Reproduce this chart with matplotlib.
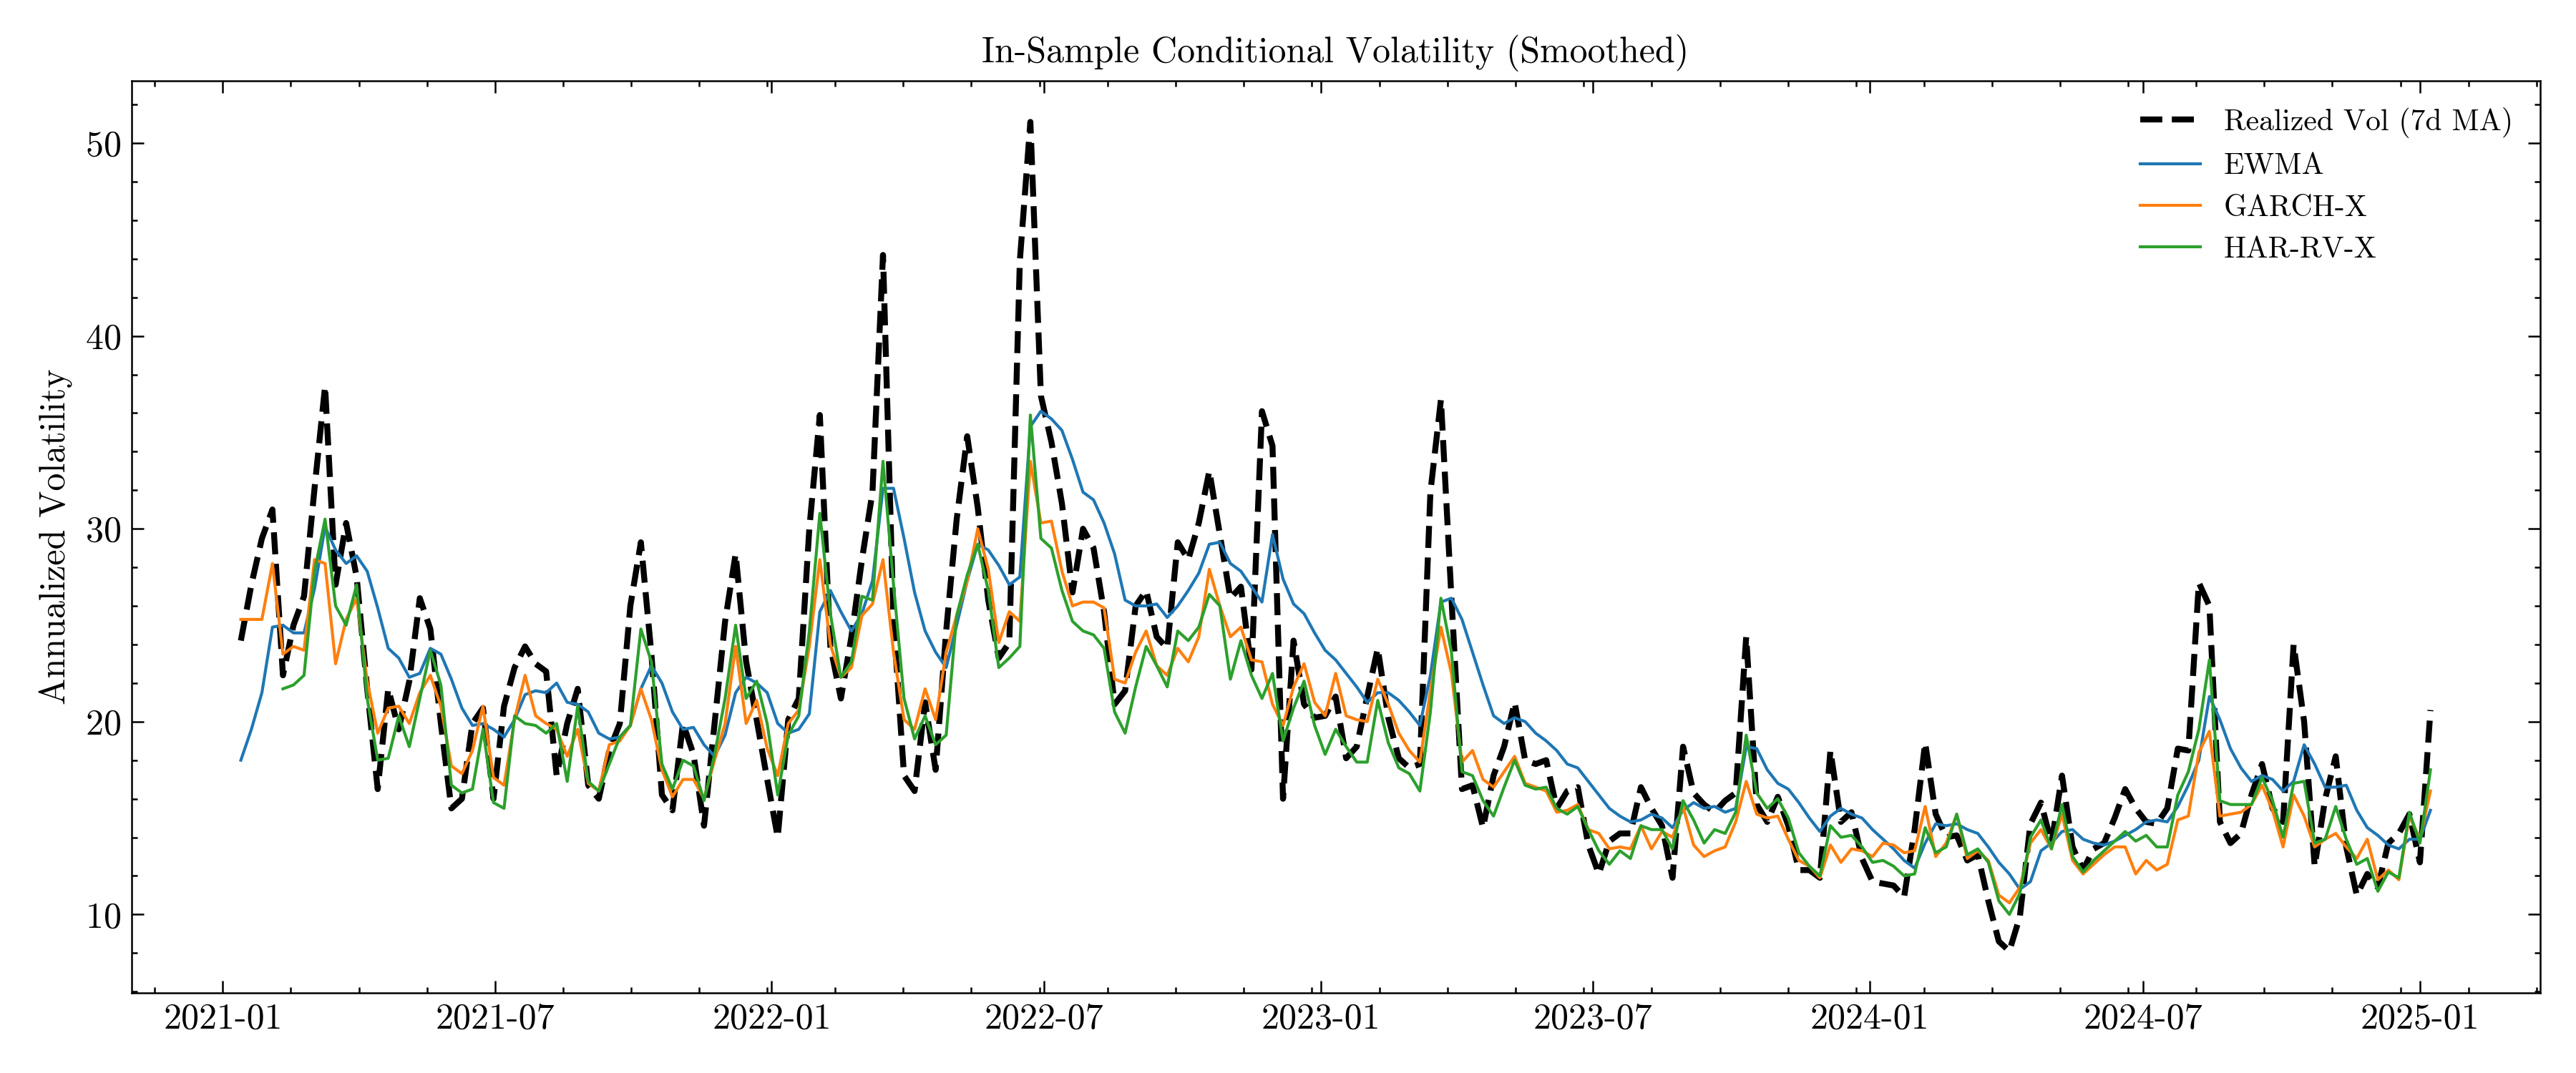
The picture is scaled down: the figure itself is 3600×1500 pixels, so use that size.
import numpy as np
import pandas as pd
import matplotlib
matplotlib.use('Agg')
import matplotlib.pyplot as plt


start_date = '2021-01-13'

realized_vol = [
    24.2, 27.1, 29.5, 31.0, 22.4, 25.0, 26.5, 32.1, 37.4, 27.1,
    30.3, 27.5, 21.7, 16.5, 21.7, 19.6, 22.1, 26.4, 24.8, 19.9,
    15.5, 16.0, 19.9, 20.7, 16.0, 20.8, 22.8, 23.9, 23.0, 22.6,
    17.2, 19.9, 21.7, 16.7, 16.0, 18.5, 19.9, 26.0, 29.3, 23.5,
    16.2, 15.4, 19.9, 18.3, 14.6, 19.9, 25.2, 28.7, 23.1, 20.1,
    17.0, 14.0, 20.1, 21.2, 30.0, 35.9, 23.9, 21.2, 24.4, 28.4,
    31.9, 44.2, 25.2, 17.2, 16.4, 21.0, 17.5, 24.7, 30.5, 34.8,
    31.1, 26.3, 23.3, 24.1, 43.9, 51.1, 36.9, 34.5, 31.3, 26.7,
    30.0, 29.0, 25.7, 20.9, 21.6, 26.0, 26.8, 24.4, 23.8, 29.3,
    28.4, 30.3, 33.0, 29.7, 26.4, 27.0, 22.7, 36.1, 34.3, 16.0,
    24.2, 20.9, 20.2, 20.3, 21.3, 18.1, 18.7, 21.3, 23.8, 20.2,
    18.1, 17.6, 17.8, 31.9, 36.7, 26.4, 16.5, 16.7, 14.5, 17.2,
    18.7, 21.0, 18.0, 17.8, 18.0, 15.5, 16.4, 16.6, 13.6, 12.1,
    13.8, 14.2, 14.2, 16.6, 15.5, 14.6, 11.9, 18.7, 16.3, 15.7,
    15.3, 15.9, 16.3, 24.4, 15.7, 14.8, 16.1, 14.6, 12.3, 12.3,
    11.9, 18.5, 14.8, 15.3, 12.9, 11.7, 11.6, 11.5, 10.9, 14.4,
    18.9, 15.2, 14.0, 14.1, 12.8, 13.1, 10.7, 8.6, 8.1, 9.9,
    14.7, 15.8, 13.7, 17.2, 13.5, 12.3, 13.4, 13.7, 15.0, 16.5,
    15.5, 14.8, 14.7, 15.5, 18.6, 18.5, 27.2, 26.0, 14.8, 13.7,
    14.2, 16.2, 17.8, 15.5, 14.8, 24.0, 20.0, 12.5, 16.0, 18.2,
    13.5, 11.0, 12.1, 11.4, 13.7, 14.2, 15.2, 12.7, 20.6,
]

ewma = [
    18.0, 19.6, 21.5, 24.9, 25.0, 24.6, 24.6, 26.9, 30.1, 28.9,
    28.2, 28.6, 27.8, 25.9, 23.8, 23.3, 22.3, 22.5, 23.8, 23.5,
    22.2, 20.7, 19.8, 19.9, 19.6, 19.2, 20.1, 21.4, 21.6, 21.5,
    22.0, 21.0, 20.9, 20.5, 19.4, 19.1, 19.2, 19.8, 21.7, 22.9,
    22.0, 20.5, 19.6, 19.7, 18.8, 18.2, 19.3, 21.5, 22.3, 22.0,
    21.5, 19.9, 19.4, 19.6, 20.4, 25.7, 26.8, 25.7, 24.7, 25.6,
    27.3, 32.1, 32.1, 29.5, 26.7, 24.7, 23.6, 22.8, 25.0, 27.3,
    29.2, 28.9, 28.1, 27.1, 27.5, 35.3, 36.1, 35.7, 35.1, 33.6,
    31.9, 31.5, 30.3, 28.7, 26.3, 26.0, 26.0, 26.1, 25.4, 26.0,
    26.8, 27.7, 29.2, 29.3, 28.2, 27.8, 27.0, 26.2, 29.7, 27.4,
    26.1, 25.6, 24.6, 23.7, 23.2, 22.5, 21.8, 21.0, 21.5, 21.5,
    21.1, 20.5, 19.8, 22.4, 26.2, 26.4, 25.3, 23.6, 21.9, 20.3,
    19.9, 20.2, 20.0, 19.4, 19.0, 18.5, 17.8, 17.6, 16.9, 16.2,
    15.5, 15.1, 14.8, 14.9, 15.2, 15.0, 14.5, 15.4, 15.8, 15.5,
    15.6, 15.3, 15.5, 18.7, 18.6, 17.5, 16.8, 16.5, 15.8, 15.0,
    14.3, 15.1, 15.5, 15.2, 15.0, 14.4, 13.9, 13.4, 12.8, 12.4,
    13.7, 14.7, 14.6, 14.7, 14.4, 14.2, 13.5, 12.7, 12.1, 11.3,
    11.7, 13.3, 13.7, 14.3, 14.4, 13.9, 13.7, 13.6, 13.8, 14.1,
    14.4, 14.8, 14.9, 14.8, 15.6, 16.7, 18.0, 21.3, 20.1, 18.6,
    17.6, 16.9, 17.2, 17.0, 16.4, 16.9, 18.8, 17.8, 16.6, 16.6,
    16.7, 15.4, 14.5, 14.1, 13.6, 13.4, 13.9, 13.9, 15.4,
]

garch_x = [
    25.3, 25.3, 25.3, 28.2, 23.5, 23.9, 23.7, 28.4, 28.2, 23.0,
    25.3, 26.4, 22.1, 19.4, 20.7, 20.8, 19.9, 21.5, 22.4, 20.8,
    17.7, 17.3, 18.5, 20.8, 17.1, 16.7, 20.1, 22.4, 20.3, 19.9,
    19.6, 18.2, 19.6, 16.8, 16.4, 18.8, 19.0, 19.8, 21.7, 20.1,
    17.5, 16.1, 17.0, 17.0, 16.0, 18.0, 19.9, 23.9, 19.9, 21.1,
    18.6, 17.2, 19.9, 20.6, 23.9, 28.4, 24.0, 22.3, 22.8, 25.5,
    26.1, 28.4, 23.6, 20.1, 19.6, 21.7, 20.1, 23.6, 25.5, 27.3,
    30.0, 27.9, 24.1, 25.7, 25.2, 33.5, 30.3, 30.4, 27.8, 26.0,
    26.2, 26.2, 25.9, 22.2, 22.0, 23.6, 24.7, 22.9, 22.4, 23.8,
    23.1, 24.4, 27.9, 26.0, 24.4, 24.9, 23.2, 23.1, 20.9, 19.8,
    21.8, 23.0, 21.0, 20.3, 22.5, 20.3, 20.1, 20.0, 22.2, 20.9,
    19.4, 18.5, 17.9, 21.6, 24.9, 22.5, 17.9, 18.5, 17.0, 16.6,
    17.4, 18.2, 16.8, 16.6, 16.4, 15.3, 15.4, 15.7, 14.4, 14.2,
    13.4, 13.5, 13.4, 14.6, 13.4, 14.3, 14.0, 15.6, 13.6, 13.0,
    13.3, 13.5, 14.8, 16.9, 15.2, 15.0, 15.1, 13.9, 12.8, 12.5,
    11.9, 13.6, 12.7, 13.4, 13.3, 13.0, 13.7, 13.6, 13.2, 13.3,
    15.6, 13.0, 13.7, 15.2, 12.9, 13.3, 12.8, 11.0, 10.6, 11.4,
    13.7, 14.4, 13.4, 15.2, 12.8, 12.1, 12.6, 13.1, 13.5, 13.5,
    12.1, 12.8, 12.3, 12.6, 14.9, 15.1, 18.4, 19.5, 15.1, 15.2,
    15.3, 15.7, 16.7, 15.4, 13.5, 16.2, 15.1, 13.5, 13.9, 14.2,
    13.5, 12.9, 13.9, 11.8, 12.3, 11.8, 15.1, 13.9, 16.4,
]

# HAR needs a few weeks of lags before it has a value
har_rv_x = [
    np.nan, np.nan, np.nan, np.nan, 21.7, 21.9, 22.4, 27.8, 30.5, 26.0,
    25.0, 27.1, 21.2, 18.0, 18.1, 20.3, 18.7, 21.2, 23.7, 21.9,
    16.7, 16.3, 16.5, 19.6, 15.8, 15.5, 20.3, 19.9, 19.8, 19.4,
    19.9, 16.9, 20.8, 16.9, 16.4, 17.8, 19.2, 19.8, 24.8, 23.1,
    17.8, 16.5, 18.0, 17.7, 15.9, 18.3, 21.2, 25.0, 21.2, 22.1,
    19.9, 16.2, 19.3, 20.3, 24.7, 30.8, 25.6, 22.3, 23.1, 26.5,
    26.3, 33.5, 27.1, 21.2, 19.1, 20.3, 18.8, 19.3, 25.5, 27.6,
    29.2, 26.8, 22.8, 23.3, 23.9, 35.9, 29.5, 29.0, 26.8, 25.2,
    24.7, 24.5, 23.8, 20.5, 19.4, 21.8, 23.9, 22.9, 21.8, 24.7,
    24.2, 24.9, 26.6, 26.0, 22.2, 24.2, 22.4, 21.2, 22.5, 19.0,
    20.7, 22.1, 19.8, 18.3, 19.6, 18.7, 17.9, 17.9, 21.1, 18.9,
    17.6, 17.3, 16.4, 20.5, 26.4, 23.6, 17.4, 17.2, 15.9, 15.1,
    16.6, 18.0, 16.7, 16.5, 16.6, 15.5, 15.2, 15.6, 14.4, 13.3,
    12.6, 13.3, 12.9, 14.6, 14.4, 14.4, 13.4, 15.9, 14.9, 13.7,
    14.4, 14.2, 15.3, 19.3, 16.3, 15.5, 16.0, 15.0, 13.2, 12.5,
    12.0, 14.6, 14.0, 14.1, 13.5, 12.7, 12.8, 12.5, 12.0, 12.1,
    14.5, 13.2, 13.5, 15.2, 13.1, 13.4, 12.7, 10.7, 10.0, 11.1,
    14.0, 14.9, 13.4, 15.7, 13.0, 12.2, 12.8, 13.3, 13.8, 14.3,
    13.8, 14.1, 13.5, 13.5, 16.2, 17.4, 19.6, 23.2, 15.9, 15.7,
    15.7, 15.7, 17.1, 15.9, 14.0, 16.8, 16.9, 13.7, 13.9, 15.6,
    13.9, 12.6, 12.9, 11.2, 12.2, 11.9, 15.3, 13.7, 17.5,
]


plt.rcParams.update({
    'font.family': ['cmr10', 'DejaVu Serif'],
    'mathtext.fontset': 'cm',
    'axes.formatter.use_mathtext': True,
    'font.size': 12,
    'axes.linewidth': 0.6,
    'xtick.direction': 'in',
    'ytick.direction': 'in',
    'xtick.top': True,
    'ytick.right': True,
    'xtick.major.size': 4,
    'ytick.major.size': 4,
    'xtick.minor.size': 2,
    'ytick.minor.size': 2,
    'xtick.major.width': 0.6,
    'ytick.major.width': 0.6,
    'xtick.minor.width': 0.6,
    'ytick.minor.width': 0.6,
})


def Plot_Vol():
    dates = pd.date_range(start_date, periods=len(realized_vol), freq='7D')

    fig, ax = plt.subplots(figsize=(12, 5), dpi=300)
    ax.plot(dates, realized_vol, 'k--', lw=2, label='Realized Vol (7d MA)')
    ax.plot(dates, ewma, color='C0', lw=1, label='EWMA')
    ax.plot(dates, garch_x, color='C1', lw=1, label='GARCH-X')
    ax.plot(dates, har_rv_x, color='C2', lw=1, label='HAR-RV-X')

    ax.minorticks_on()
    ax.set_title('In-Sample Conditional Volatility (Smoothed)', fontsize=12)
    ax.set_ylabel('Annualized Volatility')
    ax.legend(loc='upper right', frameon=False, fontsize=10)

    fig.subplots_adjust(left=0.051, right=0.986, bottom=0.075, top=0.925)
    plt.savefig('out.png')
    plt.close()


if __name__ == '__main__':
    Plot_Vol()
